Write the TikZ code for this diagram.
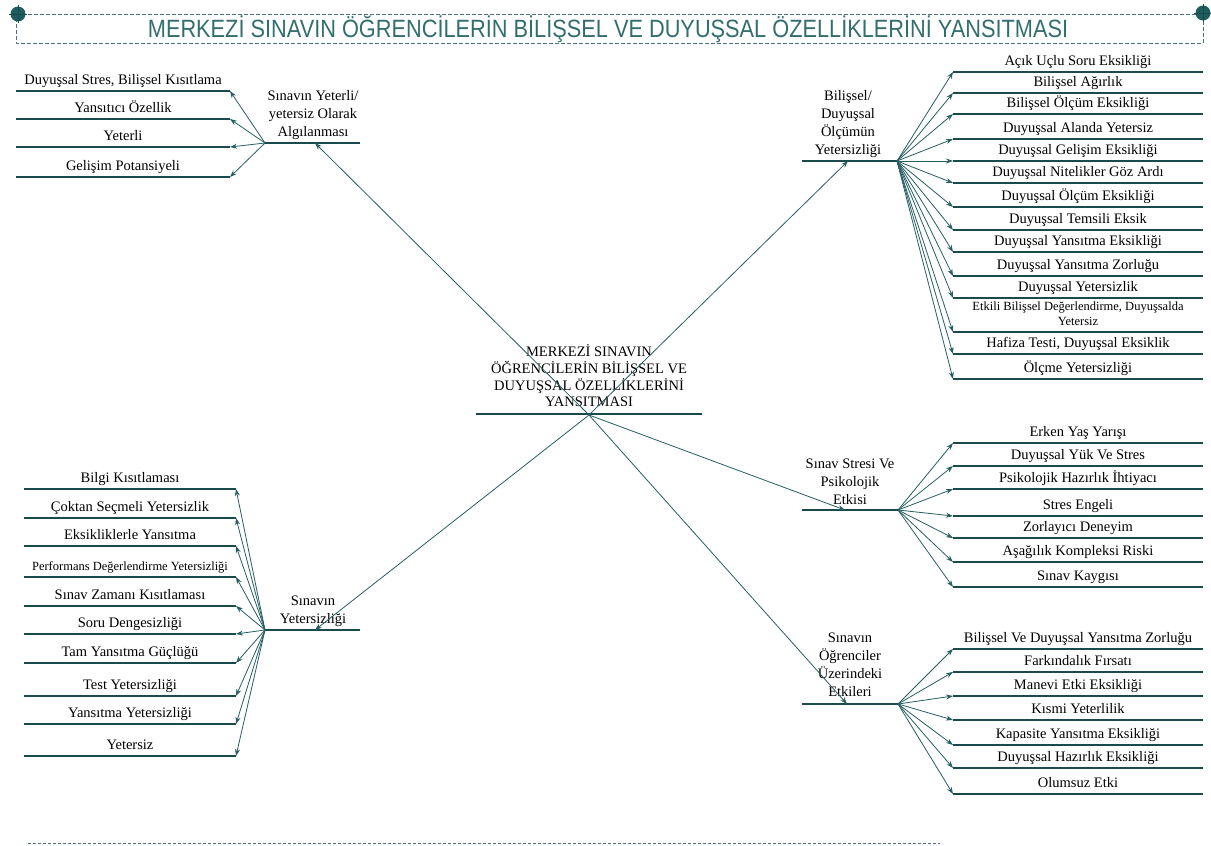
\documentclass[tikz,border=0pt]{standalone}
\usepackage{fontspec}
\usetikzlibrary{arrows.meta}
\setmainfont{Liberation Serif}
\newfontfamily\titlefont[FakeStretch=0.87]{Liberation Sans}
\definecolor{tealbar}{rgb}{0.1,0.29,0.3}
\definecolor{teallink}{rgb}{0.15,0.37,0.38}
\definecolor{tealtitle}{rgb}{0.2,0.43,0.43}
\definecolor{tealdash}{rgb}{0.3,0.45,0.46}
\definecolor{tealdot}{rgb}{0.12,0.36,0.37}
\newcommand\lblfont{\fontsize{14.5}{18}\selectfont}
\newcommand\smlfont{\fontsize{12.5}{15}\selectfont}

\begin{document}
\begin{tikzpicture}[x=1pt,y=-1pt,line join=round,>={Stealth[length=7pt,width=5pt]},
  bar/.style={color=tealbar,line width=2.8pt},
  link/.style={->,color=teallink,line width=0.8pt},
  lbl/.style={font=\lblfont,align=center,inner sep=0pt},
  itm/.style={font=\lblfont,anchor=base,inner sep=0pt}]
\useasboundingbox (0,0) rectangle (1211,846);
% title frame
\draw[tealdash,line width=0.7pt,dash pattern=on 4pt off 2pt] (16,14) -- (1203,14) -- (1203,43) -- (16,43) -- cycle;
\foreach \cx/\cy in {18/14,1203/13}{
\fill[tealdot] (\cx,\cy) circle (7.5);
\draw[tealbar,line width=0.5pt] (\cx-9,\cy) -- (\cx+9,\cy) (\cx,\cy-9) -- (\cx,\cy+9);
}
\node (title) [font=\titlefont\fontsize{25}{30}\selectfont,color=tealtitle,inner sep=0pt] at (608,29) {MERKEZİ SINAVIN ÖĞRENCİLERİN BİLİŞSEL VE DUYUŞSAL ÖZELLİKLERİNİ YANSITMASI};
\draw[tealdash,line width=0.7pt,dash pattern=on 3pt off 2pt] (28,843) -- (940,843);

% centre
\node (merkez) [lbl,font=\fontsize{14.5}{16.7}\selectfont] at (589,376) {MERKEZİ SINAVIN\\ÖĞRENCİLERİN BİLİŞSEL VE\\DUYUŞSAL ÖZELLİKLERİNİ\\YANSITMASI};
\draw[bar] (476,414) -- (702,414);
\coordinate (hub) at (589,415);

% branches
\node (algi) [lbl] at (313,115) {Sınavın Yeterli/\\yetersiz Olarak\\Algılanması};
\draw[bar] (265,143) -- (360,143);
\coordinate (algi-b) at (265,143);
\coordinate (algi-in) at (315,143);

\node (olcum) [lbl] at (848,124) {Bilişsel/\\Duyuşsal\\Ölçümün\\Yetersizliği};
\draw[bar] (802,161) -- (897,161);
\coordinate (olcum-b) at (897,161);
\coordinate (olcum-in) at (848,161);

\node (stres) [lbl] at (850,482) {Sınav Stresi Ve\\Psikolojik\\Etkisi};
\draw[bar] (802,510) -- (898,510);
\coordinate (stres-b) at (898,510);
\coordinate (stres-in) at (845,510);

\node (etki) [lbl] at (850,665) {Sınavın\\Öğrenciler\\Üzerindeki\\Etkileri};
\draw[bar] (802,704) -- (898,704);
\coordinate (etki-b) at (898,704);
\coordinate (etki-in) at (847,704);

\node (yetersiz) [lbl] at (313,611) {Sınavın\\Yetersizliği};
\draw[bar] (265,630) -- (360,630);
\coordinate (yetersiz-b) at (265,630);
\coordinate (yetersiz-in) at (315,630);

\draw[link] (hub) -- (algi-in);
\draw[link] (hub) -- (olcum-in);
\draw[link] (hub) -- (stres-in);
\draw[link] (hub) -- (etki-in);
\draw[link] (hub) -- (yetersiz-in);

% top left
\foreach \y/\t [count=\i] in {91/{Duyuşsal Stres, Bilişsel Kısıtlama},119/Yansıtıcı Özellik,147/Yeterli,177/Gelişim Potansiyeli}{
\coordinate (al-\i) at (230,\y);
\draw[bar] (16,\y) -- (al-\i);
\node[itm] (al-t\i) at (123,\y-7) {\t};
\draw[link] (algi-b) -- (al-\i);
}

% top right
\foreach \y/\t [count=\i] in {72/Açık Uçlu Soru Eksikliği,93/Bilişsel Ağırlık,114/Bilişsel Ölçüm Eksikliği,139/Duyuşsal Alanda Yetersiz,161/Duyuşsal Gelişim Eksikliği,183/Duyuşsal Nitelikler Göz Ardı,207/Duyuşsal Ölçüm Eksikliği,230/Duyuşsal Temsili Eksik,252/Duyuşsal Yansıtma Eksikliği,276/Duyuşsal Yansıtma Zorluğu,298/Duyuşsal Yetersizlik,332/{\smlfont\begin{tabular}[b]{@{}c@{}}Etkili Bilişsel Değerlendirme, Duyuşsalda\\Yetersiz\end{tabular}},354/{Hafiza Testi, Duyuşsal Eksiklik},379/Ölçme Yetersizliği}{
\coordinate (ol-\i) at (953,\y);
\draw[bar] (ol-\i) -- (1203,\y);
\node[itm] (ol-t\i) at (1078,\y-7) {\t};
\draw[link] (olcum-b) -- (ol-\i);
}

% middle right
\foreach \y/\t [count=\i] in {443/Erken Yaş Yarışı,466/Duyuşsal Yük Ve Stres,489/Psikolojik Hazırlık İhtiyacı,516/Stres Engeli,538/Zorlayıcı Deneyim,562/Aşağılık Kompleksi Riski,587/Sınav Kaygısı}{
\coordinate (st-\i) at (953,\y);
\draw[bar] (st-\i) -- (1203,\y);
\node[itm] (st-t\i) at (1078,\y-7) {\t};
\draw[link] (stres-b) -- (st-\i);
}

% bottom right
\foreach \y/\t [count=\i] in {649/Bilişsel Ve Duyuşsal Yansıtma Zorluğu,672/Farkındalık Fırsatı,696/Manevi Etki Eksikliği,720/Kısmi Yeterlilik,745/Kapasite Yansıtma Eksikliği,768/Duyuşsal Hazırlık Eksikliği,794/Olumsuz Etki}{
\coordinate (et-\i) at (953,\y);
\draw[bar] (et-\i) -- (1203,\y);
\node[itm] (et-t\i) at (1078,\y-7) {\t};
\draw[link] (etki-b) -- (et-\i);
}

% bottom left
\foreach \y/\t [count=\i] in {489/Bilgi Kısıtlaması,518/Çoktan Seçmeli Yetersizlik,546/Eksikliklerle Yansıtma,577/{\smlfont Performans Değerlendirme Yetersizliği},606/Sınav Zamanı Kısıtlaması,634/Soru Dengesizliği,663/Tam Yansıtma Güçlüğü,696/Test Yetersizliği,724/Yansıtma Yetersizliği,756/Yetersiz}{
\coordinate (ye-\i) at (236,\y);
\draw[bar] (24,\y) -- (ye-\i);
\node[itm] (ye-t\i) at (130,\y-7) {\t};
\draw[link] (yetersiz-b) -- (ye-\i);
}
\end{tikzpicture}
\end{document}
